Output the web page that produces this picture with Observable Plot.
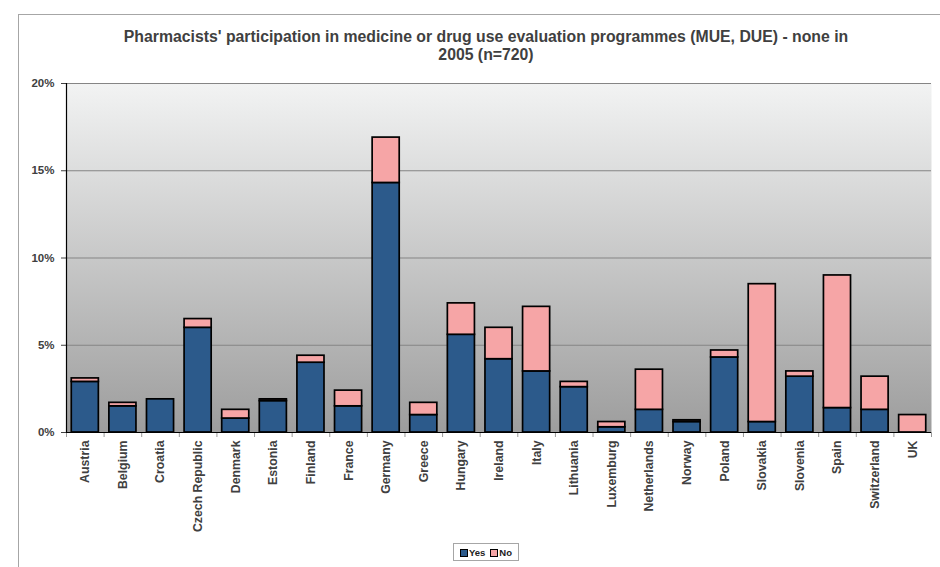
<!DOCTYPE html>
<html>
<head>
<meta charset="utf-8">
<script src="https://cdn.jsdelivr.net/npm/d3@7"></script>
<script src="https://cdn.jsdelivr.net/npm/@observablehq/plot@0.6"></script>
<style>
  body { margin: 0; background: #fff; font-family: "Liberation Sans", Arial, sans-serif; }
  #wrap { position: relative; width: 940px; height: 567px; overflow: hidden; }
  #border { position: absolute; left: 18px; top: 14px; width: 930px; height: 600px; border: 1px solid #a6a6a6; box-sizing: border-box; }
  #title { position: absolute; left: 18px; width: 936px; top: 28px; text-align: center; font-weight: bold; font-size: 15.8px; line-height: 18px; color: #404040; }
  #chart { position: absolute; left: 0; top: 70px; }
  #legend { position: absolute; left: 453px; top: 543px; width: 66px; height: 18px; border: 1px solid #a6a6a6; box-sizing: border-box; font-size: 9.5px; font-weight: bold; color: #222; display: flex; align-items: center; justify-content: center; gap: 5px; }
  .sw { display: inline-block; width: 6px; height: 6px; border: 1px solid #000; margin-right: 1px; vertical-align: middle; }
</style>
</head>
<body>
<div id="wrap">
  <div id="border"></div>
  <div id="title">Pharmacists' participation in medicine or drug use evaluation programmes (MUE, DUE) - none in<br>2005 (n=720)</div>
  <div id="chart"></div>
  <div id="legend"><span><span class="sw" style="background:#2c5a8b"></span>Yes</span><span><span class="sw" style="background:#f6a5a6"></span>No</span></div>
</div>
<script>
const countries = ["Austria","Belgium","Croatia","Czech Republic","Denmark","Estonia","Finland","France","Germany","Greece","Hungary","Ireland","Italy","Lithuania","Luxemburg","Netherlands","Norway","Poland","Slovakia","Slovenia","Spain","Switzerland","UK"];
const yesValues = [2.9,1.5,1.9,6.0,0.8,1.8,4.0,1.5,14.3,1.0,5.6,4.2,3.5,2.6,0.3,1.3,0.6,4.3,0.6,3.2,1.4,1.3,0.0];
const noValues  = [0.2,0.2,0.0,0.5,0.5,0.1,0.4,0.9,2.6,0.7,1.8,1.8,3.7,0.3,0.3,2.3,0.1,0.4,7.9,0.3,7.6,1.9,1.0];
const seriesNames = ["Yes","No"];
const seriesColors = ["#2c5a8b","#f6a5a6"];
const yTicks = [0,5,10,15,20];

const data = [];
countries.forEach((c,i) => {
  data.push({country: c, series: seriesNames[0], value: yesValues[i]});
  data.push({country: c, series: seriesNames[1], value: noValues[i]});
});

const W = 940, H = 470;
const mL = 66, mR = 9, mT = 13, mB = 108;
const step = (W - mL - mR) / countries.length;

const gradient = () => {
  const defs = d3.create("svg:defs");
  const g = defs.append("linearGradient").attr("id","bgGrad").attr("x1",0).attr("y1",0).attr("x2",0).attr("y2",1);
  g.append("stop").attr("offset","0%").attr("stop-color","#f2f3f3");
  g.append("stop").attr("offset","100%").attr("stop-color","#9d9d9d");
  return defs.node();
};

const chart = Plot.plot({
  width: W, height: H,
  marginLeft: mL, marginRight: mR, marginTop: mT, marginBottom: mB,
  style: {fontFamily: '"Liberation Sans", Arial, sans-serif', fontSize: "11.5px", fontWeight: "bold", color: "#404040", background: "transparent", overflow: "visible"},
  x: {domain: countries, paddingInner: 0.28, paddingOuter: 0.14, align: 0.5, round: false},
  y: {domain: [0,20]},
  color: {domain: seriesNames, range: seriesColors},
  marks: [
    gradient,
    Plot.frame({fill: "url(#bgGrad)", stroke: null}),
    Plot.ruleY(yTicks.filter(d => d > 0), {stroke: "#858585", strokeWidth: 1}),
    Plot.barY(data, {x: "country", y: "value", fill: "series", stroke: "#000", strokeWidth: 1.7, order: seriesNames}),
    Plot.axisY({ticks: yTicks, tickFormat: d => d + "%", label: null, tickSize: 5, tickPadding: 7, fontSize: 11.5}),
    Plot.axisX({label: null, tickSize: 0, tickRotate: -90, tickPadding: 8, fontSize: 12.3}),
    Plot.ruleX(countries, {x: d => d, dx: -step/2, y1: 0, y2: 0, insetBottom: -5, stroke: "#999"}),
    Plot.ruleX(countries.slice(-1), {x: d => d, dx: step/2, y1: 0, y2: 0, insetBottom: -5, stroke: "#999"}),
    Plot.ruleY([0], {stroke: "#000", strokeWidth: 1.2}),
    Plot.ruleX(countries.slice(0, 1), {x: d => d, dx: -step/2, stroke: "#000", strokeWidth: 1.2})
  ]
});
document.getElementById("chart").appendChild(chart);
</script>
</body>
</html>
